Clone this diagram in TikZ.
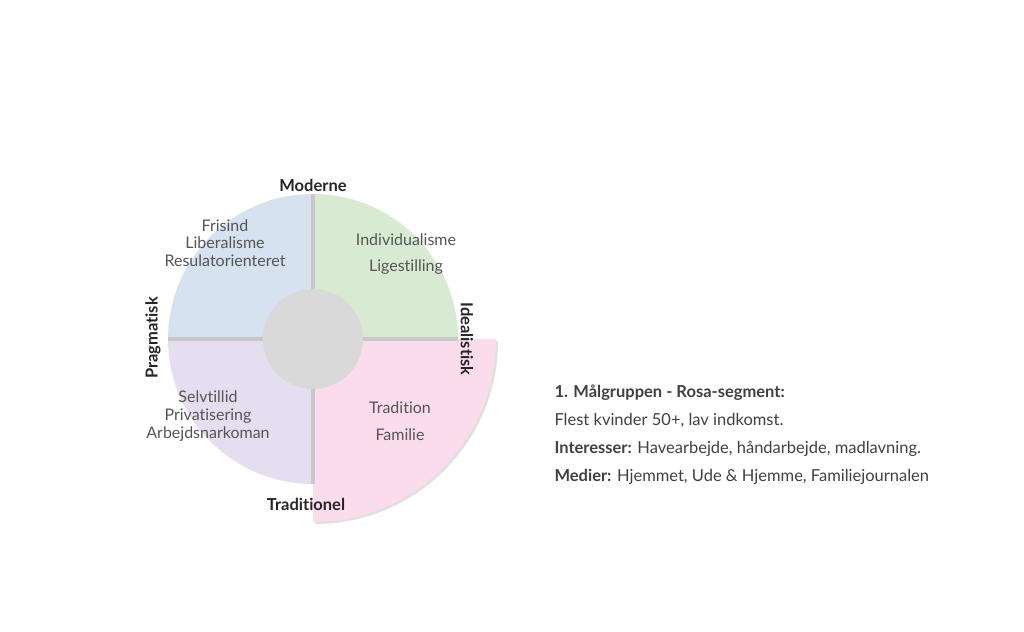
\documentclass[tikz,border=0pt]{standalone}
\usepackage{fontspec}
\setmainfont{Lato}[Ligatures=NoCommon]
\definecolor{modblue}{RGB}{214,226,240}
\definecolor{idegreen}{RGB}{217,234,211}
\definecolor{pragpurple}{RGB}{229,222,240}
\definecolor{rosapink}{RGB}{250,220,236}
\definecolor{hubgray}{RGB}{217,217,217}
\definecolor{linegray}{RGB}{200,200,200}
\definecolor{txtgray}{RGB}{85,85,85}
\tikzset{
  axislabel/.style={font=\bfseries\fontsize{16.5}{18}\selectfont, text=black!85},
  quadtext/.style={font=\fontsize{16}{17.8}\selectfont, text=txtgray, align=center},
  infotext/.style={font=\fontsize{16.5}{18}\selectfont, text=black!75, anchor=west}
}
\begin{document}
\begin{tikzpicture}[x=1pt,y=1pt]
    \useasboundingbox (0,0) rectangle (1024,631);
    \coordinate (C) at (313,292);
    % quadrants
    \fill[modblue] (C) -- (168,292) arc (180:90:145pt) -- cycle;
    \fill[idegreen] (C) -- (313,437) arc (90:0:145pt) -- cycle;
    \fill[pragpurple] (C) -- (168,292) arc (180:270:145pt) -- cycle;
    \fill[black!20, opacity=0.6] (315,290) -- (498,290) arc (0:-90:183pt) -- cycle;
    \fill[rosapink] (C) -- (496,292) arc (0:-90:183pt) -- cycle;
    % dividers
    \draw[linegray, line width=3.5pt] (313,437) -- (313,147);
    \draw[linegray, line width=3.5pt] (168,292) -- (458,292);
    \fill[hubgray] (C) circle (50pt);
    % axis labels
    \node[axislabel] (moderne) at (313,446) {Moderne};
    \node[axislabel] (traditionel) at (306,127) {Traditionel};
    \node[axislabel, rotate=90] (pragmatisk) at (153,293) {Pragmatisk};
    \node[axislabel, rotate=-90] (idealistisk) at (467,292) {Idealistisk};
    % quadrant texts
    \node[quadtext] (frisind) at (225,388) {Frisind\\Liberalisme\\Resulatorienteret};
    \node[quadtext] (individ) at (406,377) {Individualisme\\[9pt]Ligestilling};
    \node[quadtext] (selvtillid) at (208,215) {Selvtillid\\Privatisering\\Arbejdsnarkoman};
    \node[quadtext] (tradition) at (400,210) {Tradition\\[9pt]Familie};
    % segment info
    \node[infotext] (title) at (551,238) {\bfseries 1. Målgruppen - Rosa-segment:};
    \node[infotext] (flest) at (551,210) {Flest kvinder 50+, lav indkomst.};
    \node[infotext] (interesser) at (551,182) {\textbf{Interesser:} Havearbejde, håndarbejde, madlavning.};
    \node[infotext] (medier) at (551,154) {\textbf{Medier:} Hjemmet, Ude \& Hjemme, Familiejournalen};
\end{tikzpicture}
\end{document}
